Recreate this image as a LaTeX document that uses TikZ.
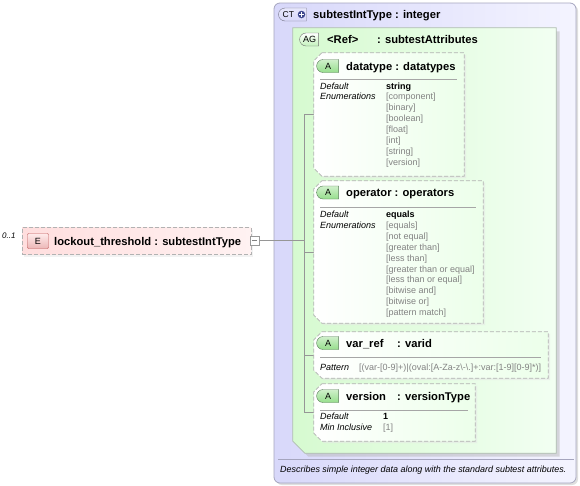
\documentclass[tikz,border=0pt]{standalone}
\usepackage{fontspec}
\setmainfont{Liberation Sans}
\usetikzlibrary{positioning,shapes.misc,shadows,calc}
\definecolor{ctfill}{RGB}{216,216,250}
\definecolor{ctlight}{RGB}{244,244,255}
\definecolor{ctline}{RGB}{165,165,190}
\definecolor{ctdark}{RGB}{60,70,140}
\definecolor{agfill}{RGB}{214,250,208}
\definecolor{aglight}{RGB}{242,255,242}
\definecolor{agline}{RGB}{175,190,175}
\definecolor{attrfill}{RGB}{236,255,234}
\definecolor{dashgray}{RGB}{178,178,178}
\definecolor{elemfill}{RGB}{255,222,222}
\definecolor{elemlight}{RGB}{255,242,242}
\definecolor{elemred}{RGB}{190,90,90}
\definecolor{badgegreen}{RGB}{150,222,140}
\definecolor{badgeline}{RGB}{90,125,90}
\definecolor{enumgray}{RGB}{130,130,130}
\definecolor{wiregray}{RGB}{150,150,150}
\newcommand\fsz[1]{\fontsize{#1}{#1}\selectfont}
% outline with cut corners on the left side of a named area
\newcommand\attroutline[2]{%
  \path[#2] ($(#1.north west)+(8,0)$) -- (#1.north east) -- (#1.south east)
    -- ($(#1.south west)+(8,0)$) -- ($(#1.south west)+(0,-8)$) -- ($(#1.north west)+(0,8)$) -- cycle;}
\tikzset{
  area/.style={rectangle, inner sep=0pt},
  attrbox/.style={draw=dashgray, dash pattern=on 4pt off 2pt, line width=0.8pt, left color=white, right color=attrfill, drop shadow={shadow xshift=2pt, shadow yshift=-2pt, fill=black!10}},
  abadge/.style={rounded rectangle, rounded rectangle right arc=none, draw=badgeline, top color=white!55!badgegreen, bottom color=badgegreen, minimum width=22pt, minimum height=13pt, inner sep=0pt, font=\fsz{9}},
  hdr/.style={anchor=base west, inner sep=0pt, font=\fsz{11.2}\bfseries},
  key/.style={anchor=base west, inner sep=0pt, font=\fsz{9}\itshape},
  val/.style={anchor=base west, inner sep=0pt, font=\fsz{9}\bfseries},
  enum/.style={anchor=base west, inner sep=0pt, text=enumgray, font=\fsz{9}},
  sep/.style={draw=black!35, line width=0.6pt},
  wire/.style={draw=wiregray, line width=0.7pt}
}
\begin{document}
\begin{tikzpicture}[x=1pt,y=-1pt]
  \useasboundingbox (0,0) rectangle (580,485);
  % complex type
  \node[rectangle, rounded corners=6pt, draw=ctline, line width=0.8pt, left color=ctfill, right color=ctlight, minimum width=302pt, minimum height=480pt, inner sep=0pt, drop shadow={shadow xshift=2pt, shadow yshift=-2pt, fill=black!25}] (ct) at (425,243) {};
  \node[rounded rectangle, rounded rectangle right arc=none, draw=ctline!70!black, top color=white!40!ctfill, bottom color=ctfill, minimum width=28pt, minimum height=13pt, inner sep=0pt] (ctbadge) at (292.5,14.5) {};
  \node[anchor=west, inner sep=0pt, font=\fsz{8.5}] (cttxt) at (282.5,14.5) {CT};
  \node[circle, fill=ctdark, minimum size=7.5pt, inner sep=0pt] (ctplus) at (301.5,14.5) {};
  \draw[white, line width=1.1pt] ($(ctplus.center)+(-2.4,0)$) -- ($(ctplus.center)+(2.4,0)$);
  \draw[white, line width=1.1pt] ($(ctplus.center)+(0,-2.4)$) -- ($(ctplus.center)+(0,2.4)$);
  \node[hdr] (cttitle) at (313,18.5) {subtestIntType : integer};
  \draw[sep, draw=ctline] (278,459) -- (574,459);
  \node[key, font=\fsz{8.95}\itshape] (desc) at (280,472) {Describes simple integer data along with the standard subtest attributes.};

  % attribute group
  \node[area, minimum width=263pt, minimum height=425pt] (ag) at (424.5,240.5) {};
  \path[draw=agline, line width=0.8pt, left color=agfill, right color=aglight, drop shadow={shadow xshift=3.5pt, shadow yshift=-3.5pt, fill=black!28}]
    (ag.north west) -- (ag.north east) -- (ag.south east) -- ($(ag.south west)+(12,0)$) -- ($(ag.south west)+(0,-12)$) -- cycle;
  \node[rounded rectangle, rounded rectangle right arc=none, draw=black!55, top color=white, bottom color=agfill!70!badgegreen, minimum width=19pt, minimum height=13pt, inner sep=0pt, font=\fsz{9}] (agbadge) at (309.5,39.5) {AG};
  \node[hdr] (agref) at (327,43.5) {<Ref>};
  \node[hdr] (agname) at (377,43.5) {: subtestAttributes};

  % tree
  \coordinate (tree) at (304,240.5);
  \node[area, minimum width=150pt, minimum height=123pt] (dt) at (389,114.5) {};
  \node[area, minimum width=169pt, minimum height=142pt] (op) at (398.5,252) {};
  \node[area, minimum width=234pt, minimum height=46pt] (vr) at (431,355) {};
  \node[area, minimum width=161pt, minimum height=57pt] (ver) at (394.5,412.5) {};
  \draw[wire] (tree |- dt.west) -- (tree |- ver.west);
  \foreach \n in {dt,op,vr,ver} \draw[wire] (tree |- \n.west) -- (\n.west);
  \foreach \n in {dt,op,vr,ver} \attroutline{\n}{attrbox};

  % datatype
  \node[abadge] (dtbadge) at (328,66) {A};
  \node[hdr] (dttitle) at (346,70) {datatype : datatypes};
  \draw[sep] (320,79.5) -- (457,79.5);
  \node[key] (dtdef) at (320,89) {Default};
  \node[key] (dtenum) at (320,99.9) {Enumerations};
  \node[val] (dtval) at (386,89) {string};
  \foreach \t [count=\i] in {component,binary,boolean,float,int,string,version}
    \node[enum] at (386,89+10.9*\i) {[\t]};

  % operator
  \node[abadge] (opbadge) at (328,192.5) {A};
  \node[hdr] (optitle) at (346,196.5) {operator : operators};
  \draw[sep] (320,207.5) -- (476,207.5);
  \node[key] (opdef) at (320,217.5) {Default};
  \node[key] (openum) at (320,228.4) {Enumerations};
  \node[val] (opval) at (386,217.5) {equals};
  \foreach \t [count=\i] in {equals,not equal,greater than,less than,greater than or equal,less than or equal,bitwise and,bitwise or,pattern match}
    \node[enum] at (386,217.5+10.9*\i) {[\t]};

  % var_ref
  \node[abadge] (vrbadge) at (328,343) {A};
  \node[hdr] (vrtitle) at (346,347) {var\_ref};
  \node[hdr] (vrtype) at (397,347) {: varid};
  \draw[sep] (320,357.5) -- (541,357.5);
  \node[key] (vrpat) at (320,370) {Pattern};
  \node[enum] (vrval) at (359,370) {[(var-[0-9]+)|(oval:[A-Za-z\textbackslash-\textbackslash.]+:var:[1-9][0-9]*)]};

  % version
  \node[abadge] (verbadge) at (328,396) {A};
  \node[hdr] (vertitle) at (346,400) {version};
  \node[hdr] (vertype) at (397,400) {: versionType};
  \draw[sep] (320,410) -- (468,410);
  \node[key] (verdef) at (320,419) {Default};
  \node[key] (vermin) at (320,430.5) {Min Inclusive};
  \node[val] (verval) at (383,419) {1};
  \node[enum] (vermv) at (383,430.5) {[1]};

  % element
  \node[rectangle, draw=dashgray, dash pattern=on 4pt off 2pt, line width=0.8pt, left color=elemfill, right color=elemlight, minimum width=229pt, minimum height=27pt, inner sep=0pt, drop shadow={shadow xshift=2pt, shadow yshift=-2pt, fill=black!10}] (elem) at (136.5,241) {};
  \node[rectangle, rounded corners=1pt, draw=elemred, top color=elemfill!60, bottom color=elemfill!70!elemred, minimum width=21pt, minimum height=15pt, inner sep=0pt, font=\fsz{9}] (ebadge) at (38,241) {E};
  \node[hdr] (etitle) at (54,245) {lockout\_threshold : subtestIntType};
  \node[key, font=\fsz{8}\itshape] (mult) at (2,238) {0..1};
  \node[rectangle, draw=black!40, fill=white, minimum size=9pt, inner sep=0pt] (minus) at (254.5,240.5) {};
  \draw[black!50, line width=0.6pt] ($(minus.west)+(2,0)$) -- ($(minus.east)+(-2,0)$);
  \draw[wire] (minus.east) -- (tree);
\end{tikzpicture}
\end{document}
